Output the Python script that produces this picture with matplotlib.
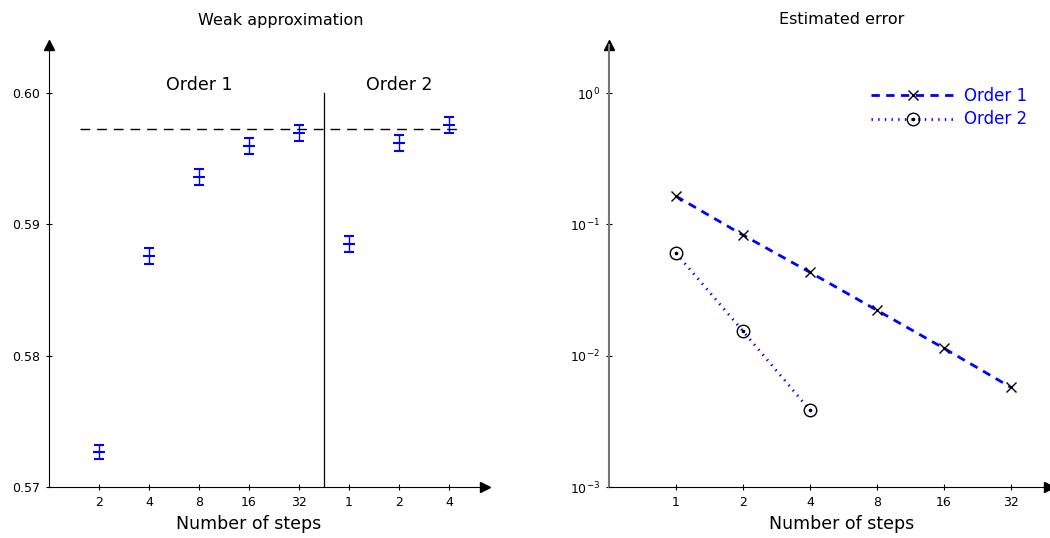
import numpy as np
import matplotlib
matplotlib.use("Agg")
import matplotlib.pyplot as plt

plt.rcParams['font.family'] = ['DejaVu Sans']
plt.rcParams['mathtext.fontset'] = 'dejavusans'

# weak approximation data (left panel)
step_labels = ['2', '4', '8', '16', '32', '1', '2', '4']
order1_mean = [0.57267, 0.58759, 0.59361, 0.59597, 0.59696]
order1_err = [0.00056, 0.0006, 0.0006, 0.0006, 0.0006]
order2_mean = [0.58851, 0.59620, 0.59757]
order2_err = [0.00063, 0.00063, 0.00063]
reference_value = 0.59727
left_yticks = [0.57, 0.58, 0.59, 0.60]

# estimated error data (right panel)
steps1 = [1, 2, 4, 8, 16, 32]
err1 = [0.164, 0.083, 0.0432, 0.0222, 0.0114, 0.00575]
steps2 = [1, 2, 4]
err2 = [0.0604, 0.0154, 0.00385]


def draw_arrows(ax):
    ax.plot(1, 0, marker='>', color='black', markersize=6.5, transform=ax.transAxes, clip_on=False)
    ax.plot(0, 1, marker='^', color='black', markersize=6.5, transform=ax.transAxes, clip_on=False)


fig = plt.figure(figsize=(10.5, 5.38), dpi=100)

# ---- left panel ----
ax1 = fig.add_axes([49 / 1050, 51 / 538, 436 / 1050, 442 / 538])
pos1 = np.arange(1, len(order1_mean) + 1)
pos2 = np.arange(len(order1_mean) + 1, len(step_labels) + 1)
ax1.errorbar(pos1, order1_mean, yerr=order1_err, fmt='_', color='blue', markersize=8,
             mew=1.5, capsize=3.5, elinewidth=1.0, capthick=1.0)
ax1.errorbar(pos2, order2_mean, yerr=order2_err, fmt='_', color='blue', markersize=8,
             mew=1.5, capsize=3.5, elinewidth=1.0, capthick=1.0)
ax1.plot([0.62, 8.24], [reference_value, reference_value], color='black', lw=1, dashes=(7, 5))
ax1.plot([5.5, 5.5], [0.57, 0.60], color='black', lw=0.9)
ax1.text(3, 0.6006, 'Order 1', ha='center', va='center', fontsize=12.5)
ax1.text(7, 0.6006, 'Order 2', ha='center', va='center', fontsize=12.5)
ax1.set_xlim(0, 8.72)
ax1.set_ylim(0.57, 0.57 + 442 / 131.3 * 0.01)
ax1.set_xticks(np.arange(1, len(step_labels) + 1))
ax1.set_xticklabels(step_labels)
ax1.set_yticks(left_yticks)
ax1.set_yticklabels(['%.2f' % v for v in left_yticks])
ax1.spines['top'].set_visible(False)
ax1.spines['right'].set_visible(False)
ax1.tick_params(direction='inout', length=5, width=0.8, labelsize=9, pad=4)
draw_arrows(ax1)

# ---- right panel ----
ax2 = fig.add_axes([609 / 1050, 51 / 538, 440 / 1050, 442 / 538])
l1, = ax2.plot(steps1, err1, color='blue', lw=2, dashes=(3, 2.3), marker='x', markersize=7,
               mec='black', mew=1)
l2, = ax2.plot(steps2, err2, color='blue', lw=2, linestyle=(0, (0.5, 1.9)), marker='o',
               markersize=9, mec='black', mfc='none', mew=1)
d2, = ax2.plot(steps2, err2, linestyle='none', marker='o', markersize=1.6, color='black')
ax2.set_xscale('log', base=2)
ax2.set_yscale('log')
ax2.set_xlim(0.5, 2 ** 5.57)
ax2.set_ylim(1e-3, 10 ** (442 / 131.3 - 3))
ax2.set_xticks(steps1)
ax2.set_xticklabels([str(s) for s in steps1])
ax2.set_yticks([1e-3, 1e-2, 1e-1, 1e0])
ax2.set_yticklabels([r'$10^{-3}$', r'$10^{-2}$', r'$10^{-1}$', r'$10^{0}$'])
ax2.minorticks_off()
ax2.spines['top'].set_visible(False)
ax2.spines['right'].set_visible(False)
ax2.spines['left'].set_color('#777777')
ax2.spines['left'].set_linewidth(1.5)
ax2.tick_params(direction='inout', length=5, width=0.8, labelsize=9, pad=4)
leg = ax2.legend([l1, (l2, d2)], ['Order 1', 'Order 2'], loc='upper right',
                 bbox_to_anchor=(0.985, 0.94), frameon=False, fontsize=12,
                 handlelength=5, numpoints=1, labelspacing=0.35, handletextpad=0.6)
for t in leg.get_texts():
    t.set_color('blue')
draw_arrows(ax2)

fig.text(281 / 1050, 1 - 20 / 538, 'Weak approximation', ha='center', va='center', fontsize=11.5)
fig.text(842 / 1050, 1 - 20 / 538, 'Estimated error', ha='center', va='center', fontsize=11.5)
fig.text(249 / 1050, 1 - 524 / 538, 'Number of steps', ha='center', va='center', fontsize=12.5)
fig.text(842 / 1050, 1 - 524 / 538, 'Number of steps', ha='center', va='center', fontsize=12.5)

fig.savefig('out.png', dpi=100)
